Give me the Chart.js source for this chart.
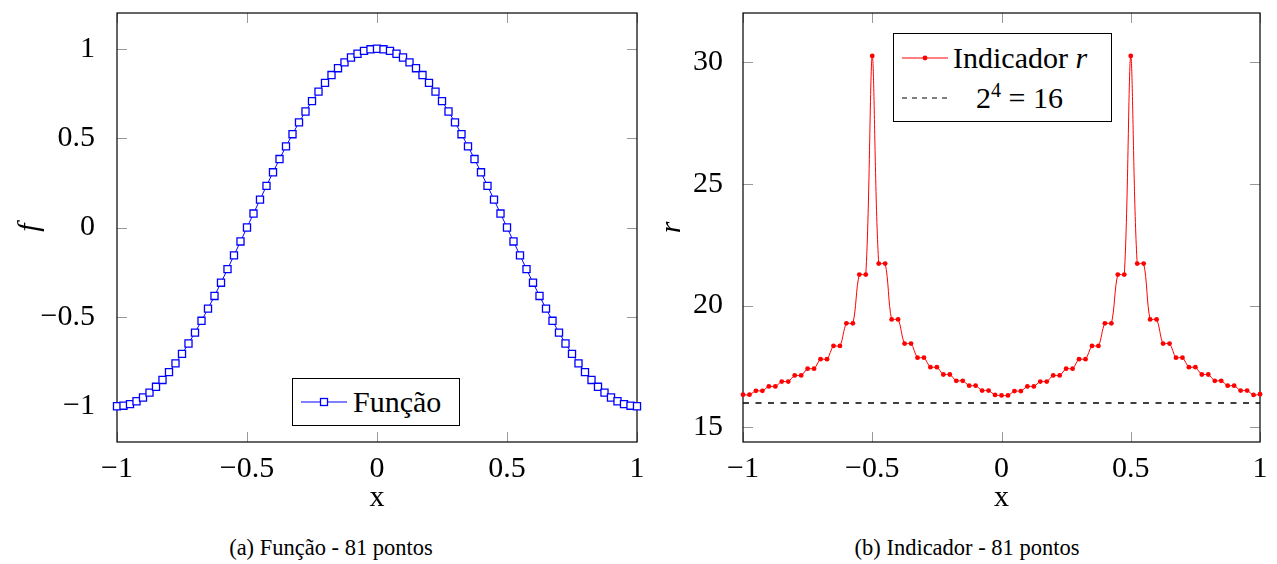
<!DOCTYPE html>
<html lang="pt">

<head>
	<meta charset="UTF-8" />
	<title>Função e Indicador - 81 pontos</title>
	<script src="https://cdn.jsdelivr.net/npm/chart.js@4.4.1/dist/chart.umd.min.js"></script>
	<style>
		body { margin: 0; background: #fff; }
		#page { position: relative; width: 1277px; height: 564px; font-family: "Liberation Serif", "DejaVu Serif", serif; color: #000; }
		canvas { position: absolute; top: 0; }
		#chartA { left: 0; }
		#chartB { left: 650px; }
		.legend { position: absolute; background: #fff; border: 1px solid #000; box-sizing: border-box; font-family: "Liberation Serif", serif; font-size: 30px; }
		.row { position: absolute; left: 0; right: 0; height: 36px; line-height: 36px; white-space: nowrap; }
		.row svg { position: absolute; top: 0; }
		.caption { position: absolute; top: 535px; font-family: "Liberation Serif", serif; font-size: 22.5px; white-space: nowrap; transform: translateX(-50%); }
	</style>
</head>

<body>
	<div id="page">
		<canvas id="chartA" width="650" height="520"></canvas>
		<canvas id="chartB" width="627" height="520"></canvas>

		<div class="legend" style="left:292px; top:378px; width:168px; height:48px;">
			<div class="row" style="top:5px;">
				<svg width="50" height="36" style="left:8px;">
					<line x1="0" y1="18" x2="46" y2="18" stroke="blue" stroke-width="1" />
					<rect x="19.5" y="14.5" width="7" height="7" fill="#fff" stroke="blue" stroke-width="1.3" />
				</svg>
				<span style="position:absolute; left:60px;">Função</span>
			</div>
		</div>

		<div class="legend" style="left:893px; top:33px; width:219px; height:89px;">
			<div class="row" style="top:6px;">
				<svg width="50" height="36" style="left:8px;">
					<line x1="0" y1="18" x2="46" y2="18" stroke="red" stroke-width="1" />
					<circle cx="23" cy="18" r="2.4" fill="red" />
				</svg>
				<span style="position:absolute; left:59px;">Indicador <i>r</i></span>
			</div>
			<div class="row" style="top:46px;">
				<svg width="50" height="36" style="left:8px;">
					<line x1="0" y1="18" x2="46" y2="18" stroke="#000" stroke-width="1" stroke-dasharray="5 5" />
				</svg>
				<span style="position:absolute; left:82px;">2<sup style="font-size:20px; line-height:0;">4</sup> = 16</span>
			</div>
		</div>

		<div class="caption" style="left:331px;">(a) Função - 81 pontos</div>
		<div class="caption" style="left:967px;">(b) Indicador - 81 pontos</div>
	</div>

	<script>
		// pontos da malha (81 pontos entre -1 e 1)
		const xs = [-1, -0.975, -0.95, -0.925, -0.9, -0.875, -0.85, -0.825, -0.8, -0.775,
			-0.75, -0.725, -0.7, -0.675, -0.65, -0.625, -0.6, -0.575, -0.55, -0.525,
			-0.5, -0.475, -0.45, -0.425, -0.4, -0.375, -0.35, -0.325, -0.3, -0.275,
			-0.25, -0.225, -0.2, -0.175, -0.15, -0.125, -0.1, -0.075, -0.05, -0.025,
			0, 0.025, 0.05, 0.075, 0.1, 0.125, 0.15, 0.175, 0.2, 0.225,
			0.25, 0.275, 0.3, 0.325, 0.35, 0.375, 0.4, 0.425, 0.45, 0.475,
			0.5, 0.525, 0.55, 0.575, 0.6, 0.625, 0.65, 0.675, 0.7, 0.725,
			0.75, 0.775, 0.8, 0.825, 0.85, 0.875, 0.9, 0.925, 0.95, 0.975, 1];

		// f (painel a)
		const funcao = [-1, -0.997, -0.988, -0.972, -0.951, -0.924, -0.891, -0.853, -0.809, -0.76,
			-0.707, -0.649, -0.588, -0.522, -0.454, -0.383, -0.309, -0.233, -0.156, -0.078,
			0, 0.078, 0.156, 0.233, 0.309, 0.383, 0.454, 0.522, 0.588, 0.649,
			0.707, 0.76, 0.809, 0.853, 0.891, 0.924, 0.951, 0.972, 0.988, 0.997,
			1, 0.997, 0.988, 0.972, 0.951, 0.924, 0.891, 0.853, 0.809, 0.76,
			0.707, 0.649, 0.588, 0.522, 0.454, 0.383, 0.309, 0.233, 0.156, 0.078,
			0, -0.078, -0.156, -0.233, -0.309, -0.383, -0.454, -0.522, -0.588, -0.649,
			-0.707, -0.76, -0.809, -0.853, -0.891, -0.924, -0.951, -0.972, -0.988, -0.997, -1];

		// r (painel b)
		const indicador = [16.34, 16.34, 16.50, 16.50, 16.68, 16.68, 16.88, 16.88, 17.13, 17.13,
			17.41, 17.41, 17.80, 17.80, 18.34, 18.34, 19.27, 19.27, 21.27, 21.27,
			30.24, 21.72, 21.72, 19.43, 19.43, 18.44, 18.44, 17.86, 17.86, 17.47,
			17.47, 17.17, 17.17, 16.91, 16.91, 16.71, 16.71, 16.51, 16.51, 16.33,
			16.31, 16.31, 16.49, 16.49, 16.68, 16.68, 16.88, 16.88, 17.13, 17.13,
			17.41, 17.41, 17.80, 17.80, 18.34, 18.34, 19.27, 19.27, 21.27, 21.27,
			30.24, 21.72, 21.72, 19.43, 19.43, 18.44, 18.44, 17.86, 17.86, 17.47,
			17.47, 17.17, 17.17, 16.91, 16.91, 16.71, 16.71, 16.51, 16.51, 16.33, 16.36];

		const referencia = 16; // 2^4

		const xTicks = [-1, -0.5, 0, 0.5, 1];
		const fTicks = [-1, -0.5, 0, 0.5, 1];
		const rTicks = [15, 20, 25, 30];

		const serif = '"Liberation Serif", serif';

		function fmt(v) {
			if (v < 0) return '\u2212' + Math.abs(v);
			return String(v);
		}

		// moldura preta + marcas de escala para dentro (estilo pgfplots)
		const frame = {
			id: 'frame',
			beforeDatasetsDraw(chart) {
				const ctx = chart.ctx;
				const a = chart.chartArea;
				const len = 10;
				ctx.save();
				ctx.strokeStyle = '#999';
				ctx.lineWidth = 1;
				ctx.beginPath();
				chart.scales.x.ticks.forEach(t => {
					const px = Math.round(chart.scales.x.getPixelForValue(t.value)) + 0.5;
					ctx.moveTo(px, a.bottom);
					ctx.lineTo(px, a.bottom - len);
					ctx.moveTo(px, a.top);
					ctx.lineTo(px, a.top + len);
				});
				chart.scales.y.ticks.forEach(t => {
					const py = Math.round(chart.scales.y.getPixelForValue(t.value)) + 0.5;
					ctx.moveTo(a.left, py);
					ctx.lineTo(a.left + len, py);
					ctx.moveTo(a.right, py);
					ctx.lineTo(a.right - len, py);
				});
				ctx.stroke();
				ctx.strokeStyle = '#000';
				ctx.lineWidth = 1.2;
				ctx.strokeRect(a.left, a.top, a.right - a.left, a.bottom - a.top);
				ctx.restore();
			}
		};

		function axes(opts) {
			return {
				x: {
					type: 'linear',
					min: -1,
					max: 1,
					grid: { display: false },
					border: { display: false },
					afterBuildTicks: s => { s.ticks = xTicks.map(v => ({ value: v })); },
					afterFit: s => { s.height = 78; s.paddingLeft = 0; s.paddingRight = 0; },
					ticks: { color: '#000', padding: 1, font: { family: serif, size: 30 }, callback: fmt, maxRotation: 0 },
					title: { display: true, text: 'x', color: '#000', padding: { top: 0, bottom: 4 }, font: { family: serif, size: 30 } }
				},
				y: {
					min: opts.min,
					max: opts.max,
					grid: { display: false },
					border: { display: false },
					afterBuildTicks: s => { s.ticks = opts.ticks.map(v => ({ value: v })); },
					afterFit: s => { s.width = opts.width; s.paddingTop = 0; s.paddingBottom = 0; },
					ticks: { color: '#000', padding: opts.pad, font: { family: serif, size: 30 }, callback: fmt },
					title: { display: true, text: opts.title, color: '#000', padding: { top: opts.titlePad, bottom: 0 }, font: { family: serif, size: 30, style: 'italic' } }
				}
			};
		}

		const common = {
			responsive: false,
			animation: false,
			devicePixelRatio: 1,
			plugins: { legend: { display: false }, tooltip: { enabled: false } }
		};

		new Chart(document.getElementById('chartA'), {
			type: 'line',
			data: {
				datasets: [{
					label: 'Função',
					data: xs.map((x, i) => ({ x: x, y: funcao[i] })),
					borderColor: 'blue',
					borderWidth: 1,
					pointStyle: 'rect',
					pointRadius: 5,
					pointBorderWidth: 1.3,
					pointBorderColor: 'blue',
					pointBackgroundColor: '#fff',
					tension: 0,
					clip: false
				}]
			},
			options: Object.assign({}, common, {
				layout: { padding: { top: 13, right: 13, left: 0, bottom: 0 } },
				scales: axes({ min: -1.2, max: 1.2, ticks: fTicks, width: 117, pad: 14, title: 'f', titlePad: 12 })
			}),
			plugins: [frame]
		});

		new Chart(document.getElementById('chartB'), {
			type: 'line',
			data: {
				datasets: [{
					label: 'Indicador r',
					data: xs.map((x, i) => ({ x: x, y: indicador[i] })),
					borderColor: 'red',
					borderWidth: 1,
					pointRadius: 2.4,
					pointBorderWidth: 0,
					pointBackgroundColor: 'red',
					tension: 0.3,
					clip: false
				}, {
					label: '2^4 = 16',
					data: [{ x: -1, y: referencia }, { x: 1, y: referencia }],
					borderColor: '#000',
					borderWidth: 1.4,
					borderDash: [6, 6.5],
					pointRadius: 0
				}]
			},
			options: Object.assign({}, common, {
				layout: { padding: { top: 13, right: 17, left: 0, bottom: 0 } },
				scales: axes({ min: 14.4, max: 32, ticks: rTicks, width: 93, pad: 12, title: 'r', titlePad: 4 })
			}),
			plugins: [frame]
		});
	</script>
</body>

</html>
